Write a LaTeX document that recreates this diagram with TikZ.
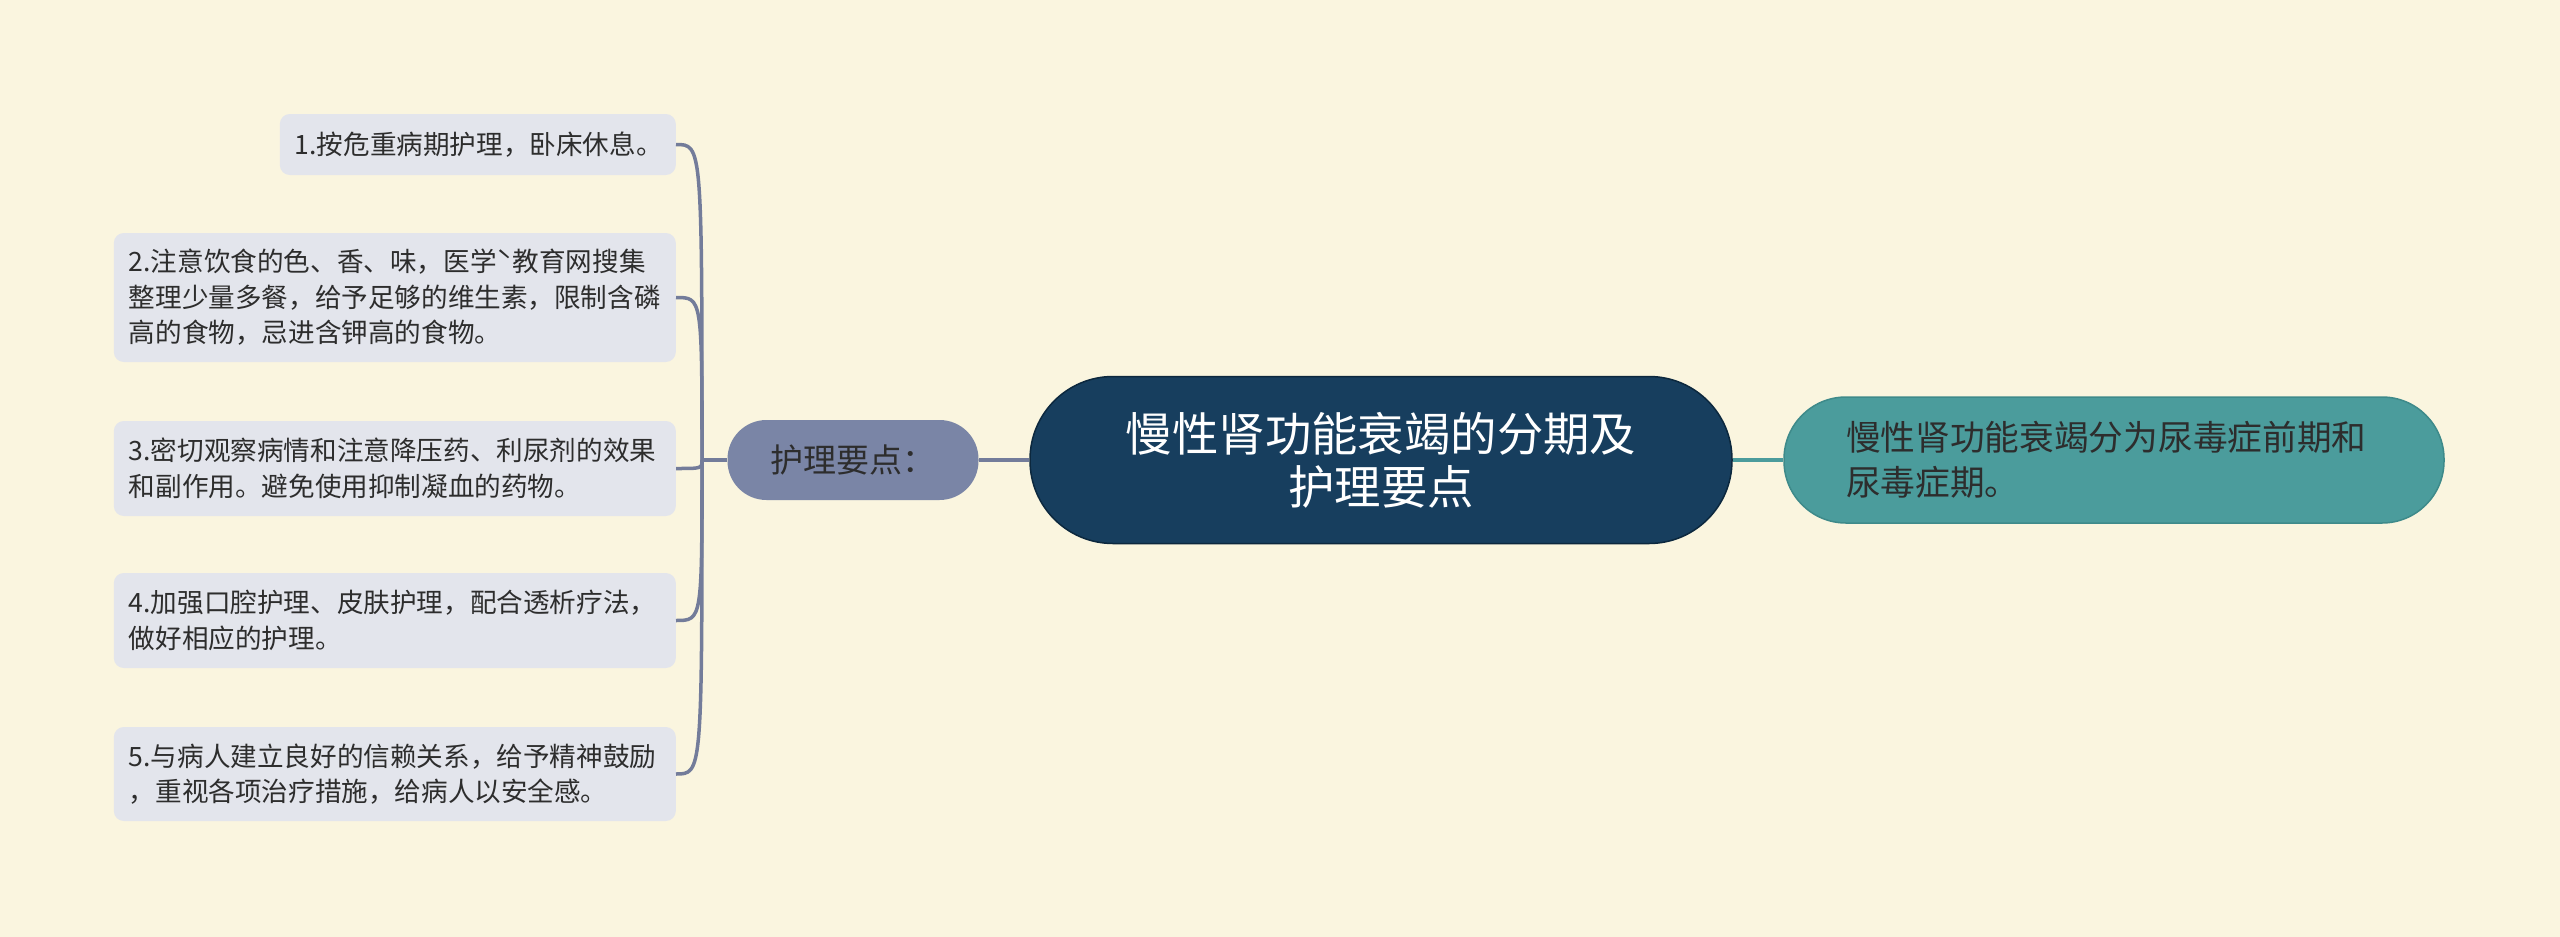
\documentclass[tikz,border=0pt]{standalone}
\usepackage{fontspec}
\newfontfamily\cjk{Noto Sans CJK SC}
\usepackage{tikz}
\definecolor{paper}{RGB}{250, 245, 223}
\definecolor{navy}{RGB}{23, 62, 94}
\definecolor{navyrim}{RGB}{12, 40, 62}
\definecolor{sea}{RGB}{75, 156, 156}
\definecolor{searim}{RGB}{62, 138, 138}
\definecolor{slate}{RGB}{122, 133, 166}
\definecolor{mist}{RGB}{227, 229, 236}
\definecolor{wire}{RGB}{115, 124, 154}
\definecolor{ink}{RGB}{45, 45, 45}

\begin{document}
\begin{tikzpicture}[x=1pt, y=-1pt,
  link/.style={draw=wire, line width=3.5pt},
  item/.style={fill=mist, rounded corners=10pt, text=ink, align=left, anchor=east,
    inner xsep=15pt, inner ysep=0pt, text width=532pt, font=\cjk\fontsize{26.6pt}{35.5pt}\selectfont},
  hub/.style={fill=navy, draw=navyrim, line width=1.5pt, rounded corners=83pt, text=white,
    align=center, minimum width=702pt, minimum height=167pt, inner sep=0pt,
    font=\cjk\fontsize{46.4pt}{53pt}\selectfont},
  branch/.style={fill=slate, rounded corners=39pt, text=ink, minimum width=251pt,
    minimum height=80pt, inner sep=0pt, font=\cjk\fontsize{33pt}{40pt}\selectfont},
  topic/.style={fill=sea, draw=searim, line width=1.5pt, rounded corners=62pt, text=ink,
    align=left, text width=536pt, minimum width=660pt, minimum height=126pt, inner sep=0pt,
    font=\cjk\fontsize{34.7pt}{45pt}\selectfont}]
  \fill[paper] (0, 0) rectangle (2560, 937);
  \useasboundingbox (0, 0) rectangle (2560, 937);

  \node[hub] (centre) at (1381, 460) {慢性肾功能衰竭的分期及\\护理要点};
  \node[branch] (care) at (853, 460) {护理要点：};
  \node[topic] (stages) at (2114, 460) {慢性肾功能衰竭分为尿毒症前期和\\尿毒症期。};

  \node[item, text width=366pt, minimum height=61pt] (item1) at (676, 144.5) {1.按危重病期护理，卧床休息。};
  \node[item, minimum height=129pt] (item2) at (676, 297.5) {2.注意饮食的色、香、味，医学ˋ教育网搜集\\整理少量多餐，给予足够的维生素，限制含磷\\高的食物，忌进含钾高的食物。};
  \node[item, minimum height=95pt] (item3) at (676, 468.5) {3.密切观察病情和注意降压药、利尿剂的效果\\和副作用。避免使用抑制凝血的药物。};
  \node[item, minimum height=95pt] (item4) at (676, 620.5) {4.加强口腔护理、皮肤护理，配合透析疗法，\\做好相应的护理。};
  \node[item, minimum height=94pt] (item5) at (676, 774) {5.与病人建立良好的信赖关系，给予精神鼓励\\，重视各项治疗措施，给病人以安全感。};

  \coordinate (fork) at (702, 460);
  \draw[link] (centre.west) -- (care.east);
  \draw[link, draw=sea] (centre.east) -- (stages.west);
  \draw[link] (care.west) -- (fork);
  \foreach \n in {1,...,5}
    \draw[link] (fork) .. controls (fork |- item\n.east) .. (item\n.east);
\end{tikzpicture}
\end{document}
